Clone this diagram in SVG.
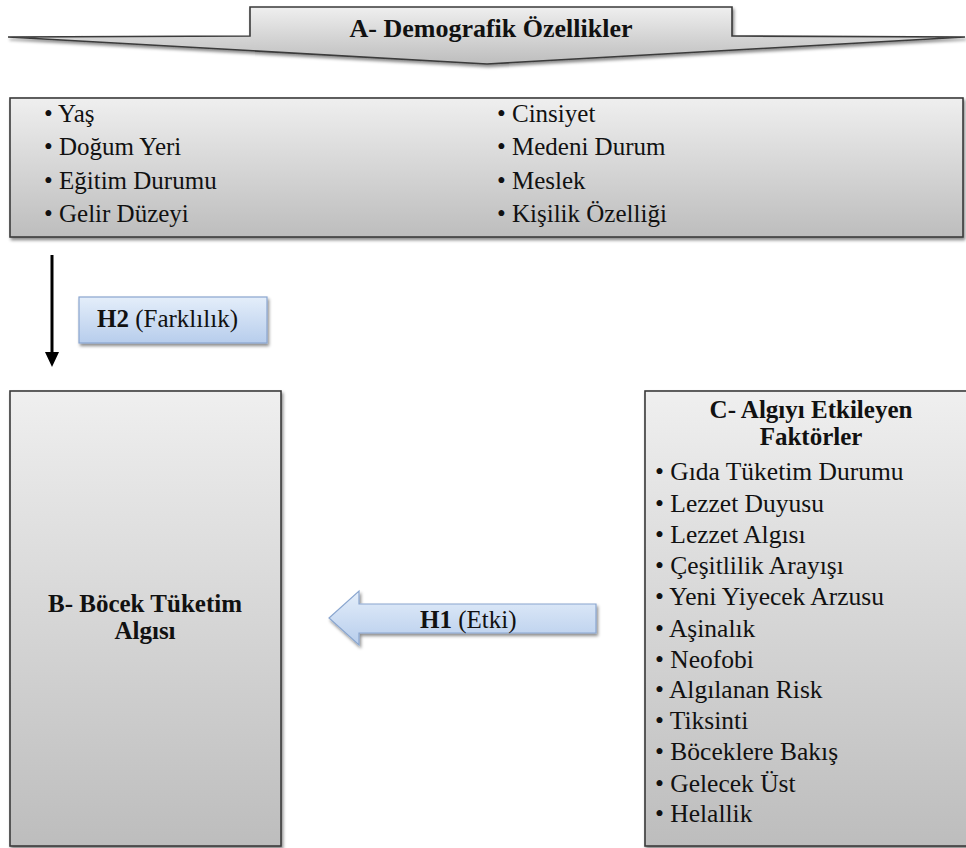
<svg xmlns="http://www.w3.org/2000/svg" width="966" height="848" viewBox="0 0 966 848">
<style>
text,tspan{font-family:"Liberation Serif","Times New Roman",serif;fill:#111;}
.b{font-weight:bold;}
.box{fill:url(#gray);stroke:#3a3a3a;stroke-width:1.6;filter:url(#sh);}
.blue{fill:url(#blue);stroke:#8aa6cf;stroke-width:1.2;filter:url(#sh);}
.li{font-size:25px;}
.lc{font-size:25.5px;}
</style>
<defs>
<linearGradient id="gray" x1="0" y1="0" x2="0" y2="1">
<stop offset="0" stop-color="#efefef"/>
<stop offset="1" stop-color="#bdbdbd"/>
</linearGradient>
<linearGradient id="blue" x1="0" y1="0" x2="0" y2="1">
<stop offset="0" stop-color="#e4eefa"/>
<stop offset="1" stop-color="#b7cdec"/>
</linearGradient>
<filter id="sh" x="-10%" y="-10%" width="120%" height="130%">
<feDropShadow dx="1.5" dy="2.5" stdDeviation="1.8" flood-color="#000" flood-opacity="0.45"/>
</filter>
</defs>
<rect width="966" height="848" fill="#fff"/>

<g id="nodeA-arrow">
<polygon class="box" points="250,7 732,7 732,36 965,37 487,64 8,37 250,36"/>
<text class="b" x="491" y="37" font-size="26" text-anchor="middle">A- Demografik Özellikler</text>
</g>

<g id="nodeA-list">
<rect class="box" x="10" y="98" width="953" height="139"/>
<text class="li" x="44" y="122">• Yaş</text>
<text class="li" x="44" y="155">• Doğum Yeri</text>
<text class="li" x="44" y="189">• Eğitim Durumu</text>
<text class="li" x="44" y="222">• Gelir Düzeyi</text>
<text class="li" x="497" y="122">• Cinsiyet</text>
<text class="li" x="497" y="155">• Medeni Durum</text>
<text class="li" x="497" y="189">• Meslek</text>
<text class="li" x="497" y="222">• Kişilik Özelliği</text>
</g>

<g id="nodeB">
<rect class="box" x="10" y="391" width="271" height="455"/>
<text class="b" font-size="25" text-anchor="middle"><tspan x="145" y="612">B- Böcek Tüketim</tspan><tspan x="145" y="639">Algısı</tspan></text>
</g>

<g id="nodeC">
<rect class="box" x="645" y="391" width="330" height="455"/>
<text class="b" font-size="25" text-anchor="middle"><tspan x="811" y="418">C- Algıyı Etkileyen</tspan><tspan x="811" y="445">Faktörler</tspan></text>
<text class="lc" x="655" y="480">•  Gıda Tüketim Durumu</text>
<text class="lc" x="655" y="512">•  Lezzet Duyusu</text>
<text class="lc" x="655" y="543">•  Lezzet Algısı</text>
<text class="lc" x="655" y="574">•  Çeşitlilik Arayışı</text>
<text class="lc" x="655" y="605">•  Yeni Yiyecek Arzusu</text>
<text class="lc" x="655" y="637">•  Aşinalık</text>
<text class="lc" x="655" y="668">•  Neofobi</text>
<text class="lc" x="655" y="698">•  Algılanan Risk</text>
<text class="lc" x="655" y="729">•  Tiksinti</text>
<text class="lc" x="655" y="760">•  Böceklere Bakış</text>
<text class="lc" x="655" y="792">•  Gelecek Üst</text>
<text class="lc" x="655" y="822">•  Helallik</text>
</g>

<g id="connectors">
<g id="h2-arrow">
<line x1="52" y1="255" x2="52" y2="354" stroke="#000" stroke-width="3"/>
<polygon points="45,352 59,352 52,367" fill="#000"/>
</g>
<g id="h2-label">
<rect class="blue" x="79" y="297" width="188" height="46"/>
<text x="97" y="327" font-size="25"><tspan class="b">H2</tspan> (Farklılık)</text>
</g>
<g id="h1-arrow">
<polygon class="blue" points="596,604 359,604 359,591 329,618 359,645 359,633 596,633"/>
<text x="420" y="628" font-size="25"><tspan class="b">H1</tspan> (Etki)</text>
</g>
</g>
</svg>
